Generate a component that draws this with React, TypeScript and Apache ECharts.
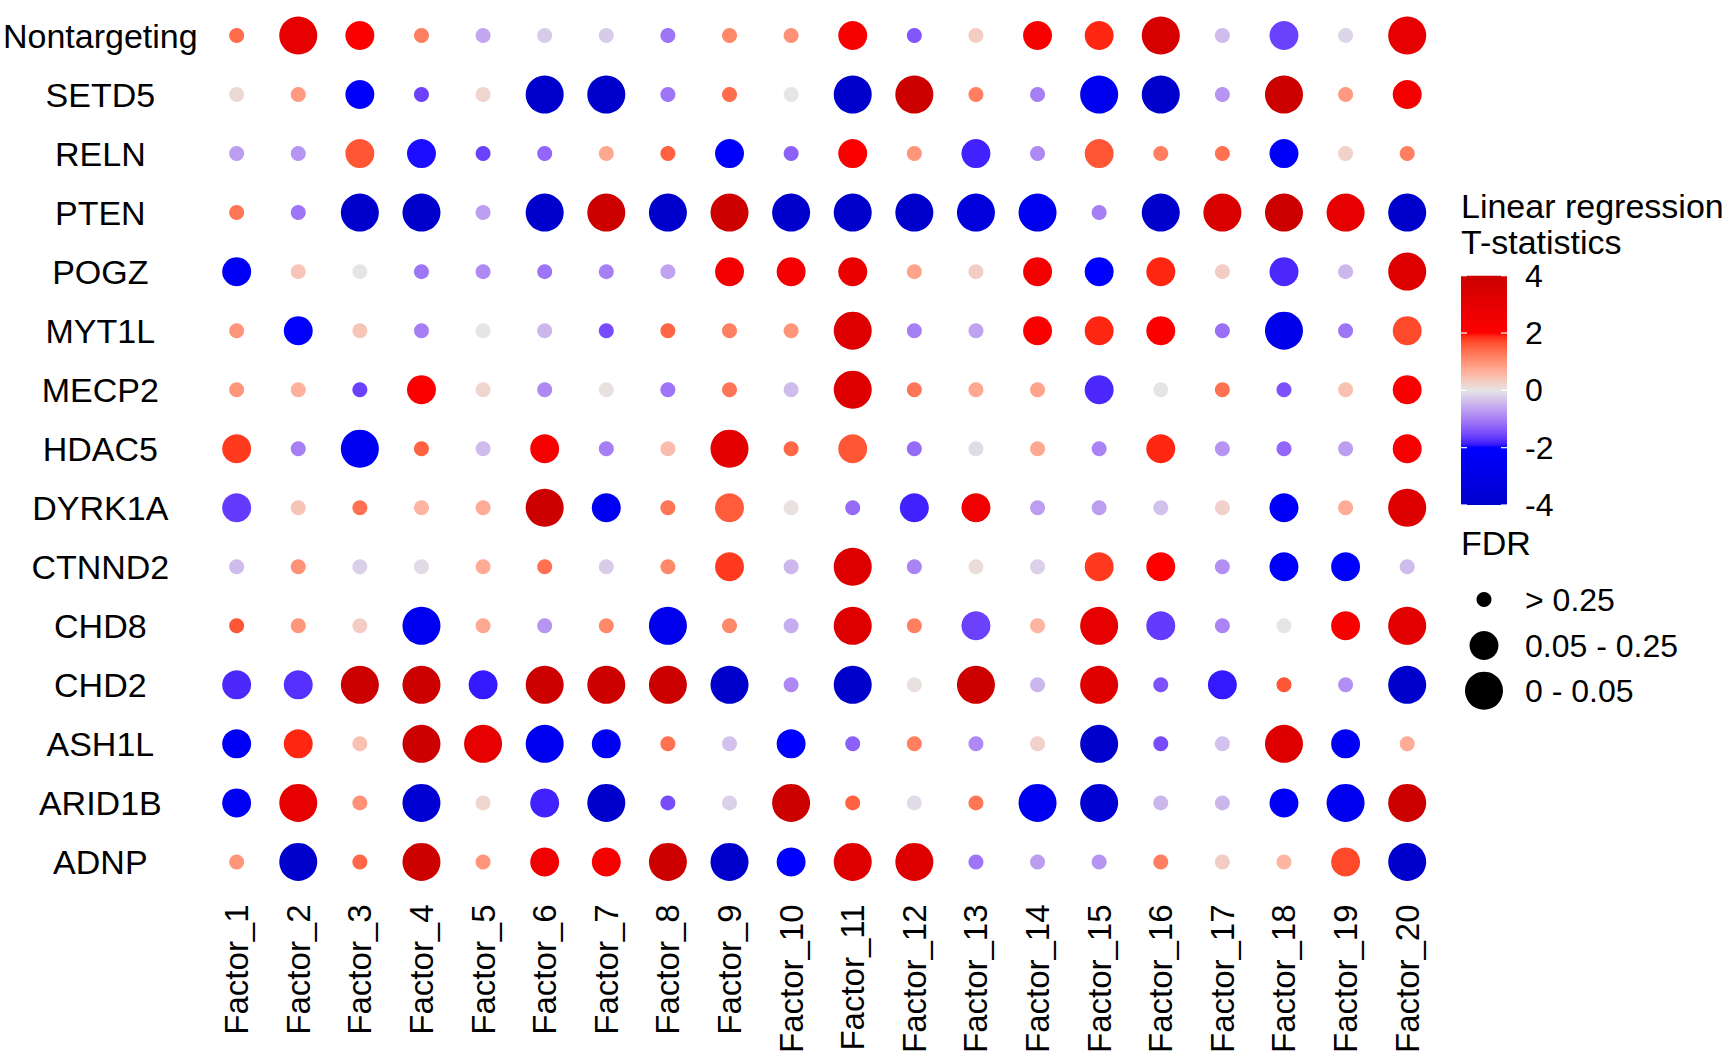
import React, { useEffect, useRef } from "react";
import * as echarts from "echarts";

// ---------------- DATA ----------------
const factors = [
  "Factor_1", "Factor_2", "Factor_3", "Factor_4", "Factor_5",
  "Factor_6", "Factor_7", "Factor_8", "Factor_9", "Factor_10",
  "Factor_11", "Factor_12", "Factor_13", "Factor_14", "Factor_15",
  "Factor_16", "Factor_17", "Factor_18", "Factor_19", "Factor_20",
];

// rows, top to bottom
const genes = [
  "Nontargeting", "SETD5", "RELN", "PTEN", "POGZ", "MYT1L", "MECP2", "HDAC5",
  "DYRK1A", "CTNND2", "CHD8", "CHD2", "ASH1L", "ARID1B", "ADNP",
];

// Linear regression T-statistics, one array per gene (Factor_1 .. Factor_20)
const tNontargeting = [1.4, 3.0, 2.2, 1.2, -0.6, -0.25, -0.25, -1.1, 1.1, 1.0, 2.3, -1.4, 0.3, 2.3, 1.9, 3.6, -0.4, -1.6, -0.15, 3.0];
const tSETD5 = [0.15, 0.9, -2.2, -1.6, 0.2, -4, -4, -1.1, 1.4, 0, -4, 4, 1.2, -1.0, -2.6, -4, -0.8, 4, 0.9, 2.4];
const tRELN = [-0.7, -0.8, 1.6, -1.95, -1.6, -1.25, 0.75, 1.5, -2.2, -1.3, 2.2, 0.95, -1.85, -0.9, 1.6, 1.2, 1.35, -2.2, 0.25, 1.2];
const tPTEN = [1.3, -1.1, -4, -4, -0.7, -4, 4, -4, 4, -4, -4, -4, -3.4, -2.6, -1.0, -4, 3.5, 4, 3.0, -4];
const tPOGZ = [-2.3, 0.4, 0.0, -1.1, -0.9, -1.1, -1.0, -0.65, 2.4, 2.4, 2.8, 0.8, 0.3, 2.4, -2.0, 1.9, 0.3, -1.8, -0.45, 3.3];
const tMYT1L = [0.95, -2.1, 0.4, -1.0, 0.0, -0.45, -1.5, 1.45, 1.2, 0.95, 3.3, -1.0, -0.65, 2.2, 1.9, 2.1, -1.15, -2.8, -1.1, 1.7];
const tMECP2 = [0.95, 0.65, -1.6, 2.2, 0.2, -0.9, 0.05, -1.1, 1.3, -0.4, 3.3, 1.3, 0.75, 0.8, -1.8, 0.0, 1.35, -1.45, 0.45, 2.2];
const tHDAC5 = [1.8, -1.0, -2.5, 1.5, -0.4, 2.3, -1.0, 0.5, 3.1, 1.45, 1.6, -1.2, -0.1, 0.75, -0.95, 1.9, -0.8, -1.25, -0.7, 2.3];
const tDYRK1A = [-1.65, 0.4, 1.35, 0.6, 0.7, 4, -2.5, 1.3, 1.55, 0.05, -1.2, -1.85, 2.6, -0.7, -0.7, -0.35, 0.25, -2.2, 0.7, 3.3];
const tCTNND2 = [-0.4, 1.0, -0.2, -0.1, 0.7, 1.35, -0.25, 1.1, 1.8, -0.45, 3.3, -0.95, 0.1, -0.2, 1.8, 2.0, -0.85, -2.2, -2.05, -0.4];
const tCHD8 = [1.6, 0.95, 0.3, -2.6, 0.75, -0.8, 1.1, -2.7, 1.1, -0.55, 3.3, 1.2, -1.6, 0.6, 3.0, -1.65, -0.95, 0.0, 2.3, 3.1];
const tCHD2 = [-1.8, -1.75, 4, 4, -1.9, 4, 4, 4, -4, -0.9, -4, 0.05, 4, -0.45, 3.2, -1.45, -1.9, 1.6, -0.85, -4];
const tASH1L = [-2.3, 1.9, 0.45, 4, 3.0, -2.6, -2.3, 1.35, -0.35, -2.0, -1.3, 1.2, -0.9, 0.25, -4, -1.5, -0.35, 3.3, -2.3, 0.7];
const tARID1B = [-2.3, 3.0, 1.0, -3.8, 0.2, -1.85, -4, -1.5, -0.2, 4, 1.5, -0.1, 1.3, -2.6, -3.8, -0.45, -0.45, -2.3, -2.6, 4];
const tADNP = [0.95, -4, 1.45, 4, 0.95, 2.6, 2.3, 4, -4, -2.0, 3.3, 3.3, -1.1, -0.7, -0.8, 1.2, 0.3, 0.6, 1.7, -4];

// FDR bin per cell: 0 = "> 0.25", 1 = "0.05 - 0.25", 2 = "0 - 0.05"
const fNontargeting = [0, 2, 1, 0, 0, 0, 0, 0, 0, 0, 1, 0, 0, 1, 1, 2, 0, 1, 0, 2];
const fSETD5 = [0, 0, 1, 0, 0, 2, 2, 0, 0, 0, 2, 2, 0, 0, 2, 2, 0, 2, 0, 1];
const fRELN = [0, 0, 1, 1, 0, 0, 0, 0, 1, 0, 1, 0, 1, 0, 1, 0, 0, 1, 0, 0];
const fPTEN = [0, 0, 2, 2, 0, 2, 2, 2, 2, 2, 2, 2, 2, 2, 0, 2, 2, 2, 2, 2];
const fPOGZ = [1, 0, 0, 0, 0, 0, 0, 0, 1, 1, 1, 0, 0, 1, 1, 1, 0, 1, 0, 2];
const fMYT1L = [0, 1, 0, 0, 0, 0, 0, 0, 0, 0, 2, 0, 0, 1, 1, 1, 0, 2, 0, 1];
const fMECP2 = [0, 0, 0, 1, 0, 0, 0, 0, 0, 0, 2, 0, 0, 0, 1, 0, 0, 0, 0, 1];
const fHDAC5 = [1, 0, 2, 0, 0, 1, 0, 0, 2, 0, 1, 0, 0, 0, 0, 1, 0, 0, 0, 1];
const fDYRK1A = [1, 0, 0, 0, 0, 2, 1, 0, 1, 0, 0, 1, 1, 0, 0, 0, 0, 1, 0, 2];
const fCTNND2 = [0, 0, 0, 0, 0, 0, 0, 0, 1, 0, 2, 0, 0, 0, 1, 1, 0, 1, 1, 0];
const fCHD8 = [0, 0, 0, 2, 0, 0, 0, 2, 0, 0, 2, 0, 1, 0, 2, 1, 0, 0, 1, 2];
const fCHD2 = [1, 1, 2, 2, 1, 2, 2, 2, 2, 0, 2, 0, 2, 0, 2, 0, 1, 0, 0, 2];
const fASH1L = [1, 1, 0, 2, 2, 2, 1, 0, 0, 1, 0, 0, 0, 0, 2, 0, 0, 2, 1, 0];
const fARID1B = [1, 2, 0, 2, 0, 1, 2, 0, 0, 2, 0, 0, 0, 2, 2, 0, 0, 1, 2, 2];
const fADNP = [0, 2, 0, 2, 0, 1, 1, 2, 2, 1, 2, 2, 0, 0, 0, 0, 0, 0, 1, 2];

const tRows = [tNontargeting, tSETD5, tRELN, tPTEN, tPOGZ, tMYT1L, tMECP2, tHDAC5, tDYRK1A, tCTNND2, tCHD8, tCHD2, tASH1L, tARID1B, tADNP];
const fdrRows = [fNontargeting, fSETD5, fRELN, fPTEN, fPOGZ, fMYT1L, fMECP2, fHDAC5, fDYRK1A, fCTNND2, fCHD8, fCHD2, fASH1L, fARID1B, fADNP];

const fdrLabels = ["> 0.25", "0.05 - 0.25", "0 - 0.05"];
const colorbarTicks = [4, 2, 0, -2, -4];
const tMin = -4;
const tMax = 4;

// ---------------- STYLE ----------------
const FONT = "'Liberation Sans', Arial, Helvetica, sans-serif";
const fdrSizes = [15, 29, 38];
const paletteValues = [-4, -2, 0, 2, 4];
const paletteColors = ["#0000CD", "#0000FF", "#E5E5E5", "#FF0000", "#CD0000"];

// Lab interpolation (like ggplot's gradientn)
function toLin(c: number) {
  c /= 255;
  return c <= 0.04045 ? c / 12.92 : Math.pow((c + 0.055) / 1.055, 2.4);
}
function fromLin(c: number) {
  const v = c <= 0.0031308 ? 12.92 * c : 1.055 * Math.pow(c, 1 / 2.4) - 0.055;
  return Math.max(0, Math.min(255, Math.round(v * 255)));
}
function hexToLab(hex: string) {
  const r = toLin(parseInt(hex.slice(1, 3), 16));
  const g = toLin(parseInt(hex.slice(3, 5), 16));
  const b = toLin(parseInt(hex.slice(5, 7), 16));
  const X = (0.4124564 * r + 0.3575761 * g + 0.1804375 * b) / 0.95047;
  const Y = 0.2126729 * r + 0.7151522 * g + 0.072175 * b;
  const Z = (0.0193339 * r + 0.119192 * g + 0.9503041 * b) / 1.08883;
  const f = (t: number) => (t > 0.008856 ? Math.cbrt(t) : 7.787 * t + 16 / 116);
  const fx = f(X), fy = f(Y), fz = f(Z);
  return [116 * fy - 16, 500 * (fx - fy), 200 * (fy - fz)];
}
function labToHex(L: number, a: number, bb: number) {
  const fy = (L + 16) / 116;
  const fx = fy + a / 500;
  const fz = fy - bb / 200;
  const inv = (t: number) => (t * t * t > 0.008856 ? t * t * t : (t - 16 / 116) / 7.787);
  const X = inv(fx) * 0.95047, Y = inv(fy), Z = inv(fz) * 1.08883;
  const r = 3.2404542 * X - 1.5371385 * Y - 0.4985314 * Z;
  const g = -0.969266 * X + 1.8760108 * Y + 0.041556 * Z;
  const b = 0.0556434 * X - 0.2040259 * Y + 1.0572252 * Z;
  const h = (v: number) => fromLin(v).toString(16).padStart(2, "0");
  return "#" + h(r) + h(g) + h(b);
}
const paletteLab = paletteColors.map(hexToLab);
function colorAt(v: number) {
  const x = Math.max(tMin, Math.min(tMax, v));
  let i = 0;
  while (i < paletteValues.length - 2 && x > paletteValues[i + 1]) i++;
  const t = (x - paletteValues[i]) / (paletteValues[i + 1] - paletteValues[i]);
  const A = paletteLab[i], B = paletteLab[i + 1];
  return labToHex(A[0] + (B[0] - A[0]) * t, A[1] + (B[1] - A[1]) * t, A[2] + (B[2] - A[2]) * t);
}
const NSTOPS = 81;
const rampColors: string[] = [];
for (let k = 0; k < NSTOPS; k++) rampColors.push(colorAt(tMin + ((tMax - tMin) * k) / (NSTOPS - 1)));

export default function App() {
  const ref = useRef<HTMLDivElement>(null);

  useEffect(() => {
    if (!ref.current) return;
    const chart = echarts.init(ref.current, undefined, { renderer: "svg" });

    const data: any[] = [];
    genes.forEach((g, i) => {
      factors.forEach((f, j) => {
        data.push([j, i, tRows[i][j], fdrRows[i][j]]);
      });
    });

    // layout
    const gridLeft = 204;
    const gridRight = 290;
    const gridTop = 6;
    const gridBottom = 160;

    const cbX = 1461, cbY = 275.7, cbW = 46, cbH = 229.3;
    const cbYof = (v: number) => cbY + ((tMax - v) / (tMax - tMin)) * cbH;

    // top of bar = tMax (red), ascending offsets
    const gradStops = [];
    for (let k = 0; k < NSTOPS; k++) {
      gradStops.push({ offset: k / (NSTOPS - 1), color: rampColors[NSTOPS - 1 - k] });
    }

    const graphics: any[] = [
      { type: "text", x: 1461, y: 206, style: { text: "Linear regression", font: `34px ${FONT}`, fill: "#000", textVerticalAlign: "middle" } },
      { type: "text", x: 1461, y: 242, style: { text: "T-statistics", font: `34px ${FONT}`, fill: "#000", textVerticalAlign: "middle" } },
      {
        type: "rect",
        shape: { x: cbX, y: cbY, width: cbW, height: cbH },
        style: {
          fill: {
            type: "linear",
            x: 0, y: 0, x2: 0, y2: 1,
            colorStops: gradStops,
          },
        },
      },
    ];
    colorbarTicks.forEach((v) => {
      const y = cbYof(v);
      graphics.push({ type: "line", shape: { x1: cbX, y1: y, x2: cbX + 6, y2: y }, style: { stroke: "#fff", lineWidth: 1.2 } });
      graphics.push({ type: "line", shape: { x1: cbX + cbW - 6, y1: y, x2: cbX + cbW, y2: y }, style: { stroke: "#fff", lineWidth: 1.2 } });
      graphics.push({ type: "text", x: 1525, y, style: { text: String(v), font: `32px ${FONT}`, fill: "#000", textVerticalAlign: "middle" } });
    });
    graphics.push({ type: "text", x: 1461, y: 543, style: { text: "FDR", font: `34px ${FONT}`, fill: "#000", textVerticalAlign: "middle" } });
    const legendYs = [599.5, 645.5, 690.7];
    fdrLabels.forEach((lab, k) => {
      graphics.push({ type: "circle", shape: { cx: 1484, cy: legendYs[k], r: fdrSizes[k] / 2 }, style: { fill: "#000" } });
      graphics.push({ type: "text", x: 1525, y: legendYs[k], style: { text: lab, font: `32px ${FONT}`, fill: "#000", textVerticalAlign: "middle" } });
    });

    chart.setOption({
      animation: false,
      backgroundColor: "#fff",
      textStyle: { fontFamily: FONT },
      grid: { left: gridLeft, right: gridRight, top: gridTop, bottom: gridBottom, containLabel: false },
      xAxis: {
        type: "category",
        data: factors,
        boundaryGap: true,
        axisLine: { show: false },
        axisTick: { show: false },
        splitLine: { show: false },
        axisLabel: { rotate: 90, interval: 0, fontSize: 33, color: "#000", margin: 13, fontFamily: FONT },
      },
      yAxis: {
        type: "category",
        data: genes,
        inverse: true,
        boundaryGap: true,
        axisLine: { show: false },
        axisTick: { show: false },
        splitLine: { show: false },
        axisLabel: { interval: 0, fontSize: 34, color: "#000", margin: 105.5, align: "center", fontFamily: FONT },
      },
      visualMap: {
        show: false,
        type: "continuous",
        dimension: 2,
        min: tMin,
        max: tMax,
        seriesIndex: 0,
        inRange: { color: rampColors },
      },
      series: [
        {
          type: "scatter",
          data,
          symbol: "circle",
          symbolSize: (val: any) => fdrSizes[val[3]],
          itemStyle: { opacity: 1 },
          emphasis: { disabled: true },
        },
      ],
      graphic: graphics,
    });

    return () => chart.dispose();
  }, []);

  return (
    <div
      ref={ref}
      style={{ position: "fixed", left: 0, top: 0, width: 1728, height: 1056, background: "#fff" }}
    />
  );
}
